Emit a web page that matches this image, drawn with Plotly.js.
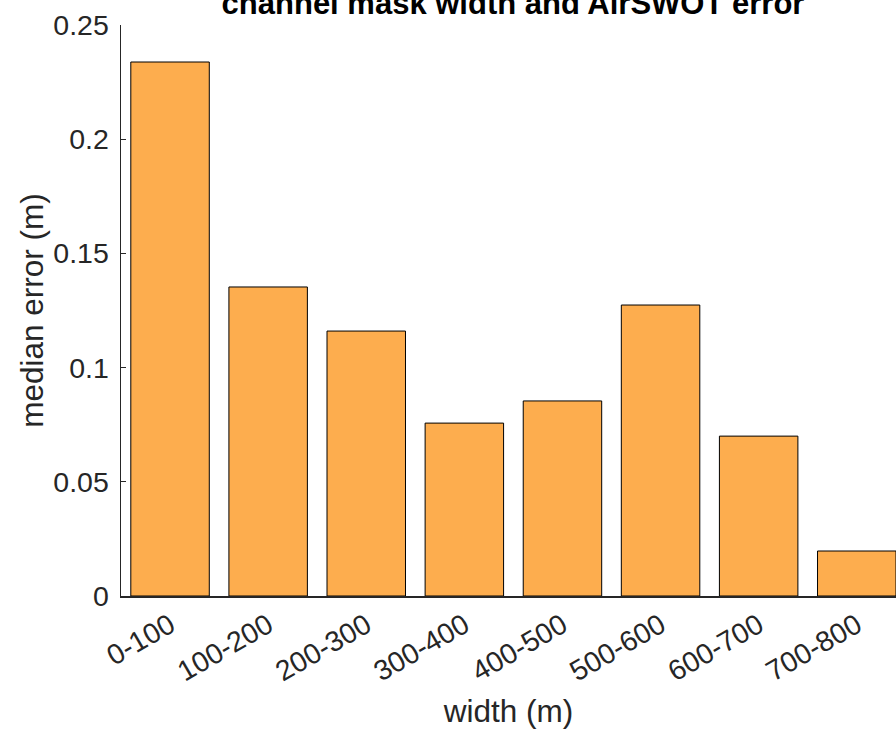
<!DOCTYPE html>
<html>
<head>
<meta charset="utf-8">
<script src="https://cdn.plot.ly/plotly-3.0.1.min.js"></script>
<style>
html,body{margin:0;padding:0;overflow:hidden;background:#fff;}
#chart{width:896px;height:729px;}
</style>
</head>
<body>
<div id="chart"></div>
<script>
const categories = ["0-100","100-200","200-300","300-400","400-500","500-600","600-700","700-800"];
const medianError = [0.2338, 0.1353, 0.1160, 0.0757, 0.0854, 0.1274, 0.0700, 0.0197];
const yTickVals = [0, 0.05, 0.1, 0.15, 0.2, 0.25];
const yTickText = ["0", "0.05", "0.1", "0.15", "0.2", "0.25"];

const fontFam = "Liberation Sans, Arial, Helvetica, sans-serif";
const axisCol = "#262626";

const trace = {
  type: "bar",
  x: categories.map((c, i) => i),
  y: medianError,
  width: 0.8,
  marker: {color: "#FDAD4E", line: {color: "#000000", width: 1}},
  hoverinfo: "skip"
};

const layout = {
  width: 896, height: 729,
  margin: {l: 121, r: 0, t: 25, b: 133, pad: 0},
  paper_bgcolor: "#ffffff", plot_bgcolor: "#ffffff",
  showlegend: false,
  font: {family: fontFam, size: 28, color: axisCol},
  title: {
    text: "<b>channel mask width and AirSWOT error</b>",
    font: {family: fontFam, size: 31, color: "#000000"},
    xref: "container", x: 513/896, xanchor: "center",
    yref: "container", y: 1 - 14/729, yanchor: "bottom"
  },
  xaxis: {
    range: [-0.5, 7.4],
    tickmode: "array",
    tickvals: categories.map((c, i) => i),
    ticktext: categories,
    tickangle: -30,
    ticks: "",
    showline: true, linecolor: axisCol, linewidth: 1.5,
    showgrid: false, zeroline: false,
    tickfont: {size: 28.5, color: axisCol},
    title: {text: "width (m)", font: {size: 31.5, color: axisCol}, standoff: 14}
  },
  yaxis: {
    range: [0, 0.25],
    tickmode: "array",
    tickvals: yTickVals,
    ticktext: yTickText,
    ticks: "inside", ticklen: 5, tickwidth: 1.2, tickcolor: axisCol,
    ticklabelstandoff: 5,
    showline: true, linecolor: axisCol, linewidth: 1.5,
    showgrid: false, zeroline: false,
    tickfont: {size: 28.5, color: axisCol},
    title: {text: "median error (m)", font: {size: 31.5, color: axisCol}, standoff: 0}
  }
};

Plotly.newPlot("chart", [trace], layout, {displayModeBar: false, staticPlot: true});
</script>
</body>
</html>
